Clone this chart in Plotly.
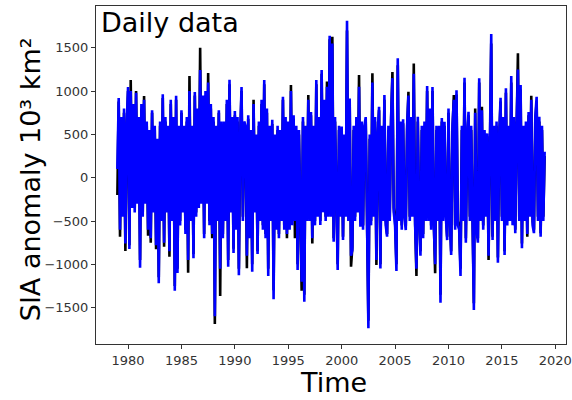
import plotly.graph_objects as go

# Values: 8 readings per year (every 1/8 year), 1979.0 .. 2019.0
sia_blue = [
    100, 920, -600, 700, -450, 800, -760, 600,          # 1979
    1047, -823, 1000, -350, 850, -400, 980, -300,       # 1980
    700, -1039, 850, -450, 900, -300, 650, -600,        # 1981
    550, -700, 780, -400, 600, -780, 450, -1219,        # 1982
    650, -500, 965, -750, 700, -400, 600, -850,         # 1983
    900, -500, 700, -1305, 947, -1100, 600, -550,       # 1984
    780, -400, 600, -650, 700, -950, 1000, -500,        # 1985
    600, -931, 990, -450, 800, -350, 1245, -300,        # 1986
    950, -700, 1000, -300, 1100, -550, 850, -650,       # 1987
    700, -1600, 600, -500, 780, -1050, 650, -700,       # 1988
    650, -500, 900, -1028, 1130, -400, 700, -870,       # 1989
    770, -600, 700, -1127, 500, 1047, -500, 650,        # 1990
    600, -900, 720, -700, 550, -1085, 850, -400,        # 1991
    500, -880, 650, -500, 900, -600, 1128, -700,        # 1992
    800, -1135, 600, -500, 670, -1404, 500, -600,       # 1993
    600, -700, 550, -500, 935, -600, 700, -650,         # 1994
    650, -600, 1000, -550, 720, -500, 600, -1066,       # 1995
    550, -600, -1200, 700, -1432, 600, -500, 900,       # 1996
    -500, 760, -700, 600, -550, 1128, -450, 700,        # 1997
    -546, 1245, -400, 900, -500, 1050, -450, 1640,      # 1998
    -450, 1550, -740, 700, -500, -1066, 600, -450,      # 1999
    590, -720, 500, -450, 1813, -500, 915, -900,        # 2000
    -835, 600, -500, 700, -400, 1050, -565, 650,        # 2001
    -600, 600, 700, -500, -1739, 500, -550, 1100,       # 2002
    -450, 700, -950, 500, 820, -1047, 600, -500,        # 2003
    955, -550, -680, 600, -500, 700, 1150, -400,        # 2004
    -550, -1077, 1380, -500, 650, -600, 674, -450,      # 2005
    -604, 600, 950, -500, 700, -450, 1200, -550,        # 2006
    -1050, 705, -500, -900, 600, -700, 650, -500,       # 2007
    1060, -500, 800, -600, 1047, -550, -1000, 600,      # 2008
    -500, 600, -1443, 690, -500, 647, -450, -720,       # 2009
    800, -500, -893, 600, 900, -600, 1010, -550,        # 2010
    -600, -1135, 600, -500, 1155, -750, 500, 762,       # 2011
    -500, 600, -700, -1528, 750, -600, -750, 1148,      # 2012
    -500, 780, -600, 550, -450, 512, -900, 600,         # 2013
    1660, -720, 600, -500, 650, -981, 500, 924,         # 2014
    -500, 700, -893, 1032, -550, 600, -500, 1175,       # 2015
    -550, 700, -642, 600, 1250, -500, 1070, -815,       # 2016
    600, -500, 650, -650, 760, -450, 900, -550,         # 2017
    -640, 700, 935, -500, 705, -681, 600, -500,         # 2018
    300,                                                # 2019
]

sia_black = [
    -200, 880, -681, 650, -400, 750, -846, 550,         # 1979
    1000, -780, 1127, -300, 800, -350, 1000, -250,      # 1980
    650, -950, 800, -400, 943, -250, 600, -670,         # 1981
    500, -750, 750, -350, 550, -827, 400, -1150,        # 1982
    600, -450, 920, -797, 650, -350, 550, -912,         # 1983
    850, -450, 650, -1250, 900, -1050, 550, -500,       # 1984
    750, -350, 550, -600, 650, -1097, 1175, -450,       # 1985
    550, -880, 950, -400, 750, -300, 1500, -250,        # 1986
    900, -650, 950, -250, 1210, -500, 800, -700,        # 1987
    650, -1689, 550, -450, 750, -1366, 600, -650,       # 1988
    600, -450, 850, -950, 1080, -350, 650, -820,        # 1989
    720, -550, 650, -1050, 450, 1000, -450, 600,        # 1990
    550, -1046, 680, -650, 500, -1000, 900, -350,       # 1991
    450, -850, 600, -450, 850, -550, 1080, -650,        # 1992
    750, -1050, 550, -450, 620, -1300, 450, -550,       # 1993
    550, -650, 500, -450, 900, -550, 650, -700,         # 1994
    600, -550, 1070, -500, 680, -700, 550, -1000,       # 1995
    500, -550, -1305, 650, -1350, 550, -450, 955,       # 1996
    -450, 720, -760, 550, -500, 1080, -400, 650,        # 1997
    -500, 1200, -350, 850, -450, 1110, -400, 1600,      # 1998
    -400, 1628, -700, 650, -450, -1000, 550, -400,      # 1999
    550, -680, 450, -400, 1700, -450, 870, -1028,       # 2000
    -800, 550, -450, 650, -350, 1186, -520, 600,        # 2001
    -550, 550, 650, -450, -1650, 450, -500, 1207,       # 2002
    -400, 650, -1008, 450, 780, -1000, 550, -450,       # 2003
    900, -500, -650, 550, -450, 650, 1220, -350,        # 2004
    -500, -1000, 1300, -450, 600, -550, 630, -400,      # 2005
    -560, 550, 993, -450, 650, -400, 1320, -500,        # 2006
    -1135, 650, -450, -850, 550, -650, 600, -450,       # 2007
    1000, -450, 750, -550, 1000, -500, -1104, 550,      # 2008
    -450, 550, -1350, 650, -450, 600, -400, -680,       # 2009
    750, -450, -850, 550, 955, -550, 960, -500,         # 2010
    -550, -1050, 550, -450, 1100, -700, 450, 720,       # 2011
    -450, 550, -650, -1450, 800, -550, -700, 1100,      # 2012
    -450, 820, -550, 500, -400, 480, -950, 550,         # 2013
    1550, -680, 550, -450, 600, -920, 450, 880,         # 2014
    -450, 650, -850, 980, -500, 550, -450, 1100,        # 2015
    -500, 650, -600, 550, 1436, -450, 1020, -760,       # 2016
    550, -450, 600, -681, 720, -400, 947, -500,         # 2017
    -600, 650, 880, -450, 650, -640, 550, -450,         # 2018
    250,                                                # 2019
]

start_year = 1979
readings_per_year = 8
x_ticks = [1980, 1985, 1990, 1995, 2000, 2005, 2010, 2015, 2020]
y_ticks = [-1500, -1000, -500, 0, 500, 1000, 1500]


def time_axis(values):
    return [start_year + i / readings_per_year for i in range(len(values))]


fig = go.Figure()
fig.add_trace(go.Scatter(x=time_axis(sia_black), y=sia_black, mode="lines",
                         line=dict(color="black", width=2.6), showlegend=False))
fig.add_trace(go.Scatter(x=time_axis(sia_blue), y=sia_blue, mode="lines",
                         line=dict(color="#0000ff", width=2.6), showlegend=False))

axis_common = dict(showgrid=False, zeroline=False, showline=True, mirror=True,
                   linecolor="#333333", linewidth=1, ticks="outside", ticklen=4,
                   tickcolor="#333333", automargin=False,
                   tickfont=dict(family="DejaVu Sans", size=13, color="#333333"))

title_font = dict(family="DejaVu Sans", size=27, color="black")

fig.update_layout(
    width=572, height=400,
    margin=dict(l=96, r=6, t=6, b=56),
    paper_bgcolor="white", plot_bgcolor="white",
    font=dict(family="DejaVu Sans", color="black"),
    hovermode=False,
    xaxis=dict(range=[1977, 2021], tickvals=x_ticks, **axis_common),
    yaxis=dict(range=[-1920, 1983], tickvals=y_ticks, **axis_common),
    annotations=[
        dict(text="Daily data", xref="paper", yref="paper", x=0.006, y=1.003,
             xanchor="left", yanchor="top", showarrow=False, font=title_font),
        dict(text="Time", xref="paper", yref="paper", x=0.506, y=-0.115,
             xanchor="center", yanchor="middle", showarrow=False, font=title_font),
        dict(text="SIA anomaly 10³ km²", xref="paper", yref="paper", x=-0.14, y=0.488,
             xanchor="center", yanchor="middle", textangle=-90, showarrow=False,
             font=title_font),
    ],
)

fig.write_html("out.html", config={"displayModeBar": False},
               post_script="document.body.style.margin='0px';document.body.style.padding='0px';")
